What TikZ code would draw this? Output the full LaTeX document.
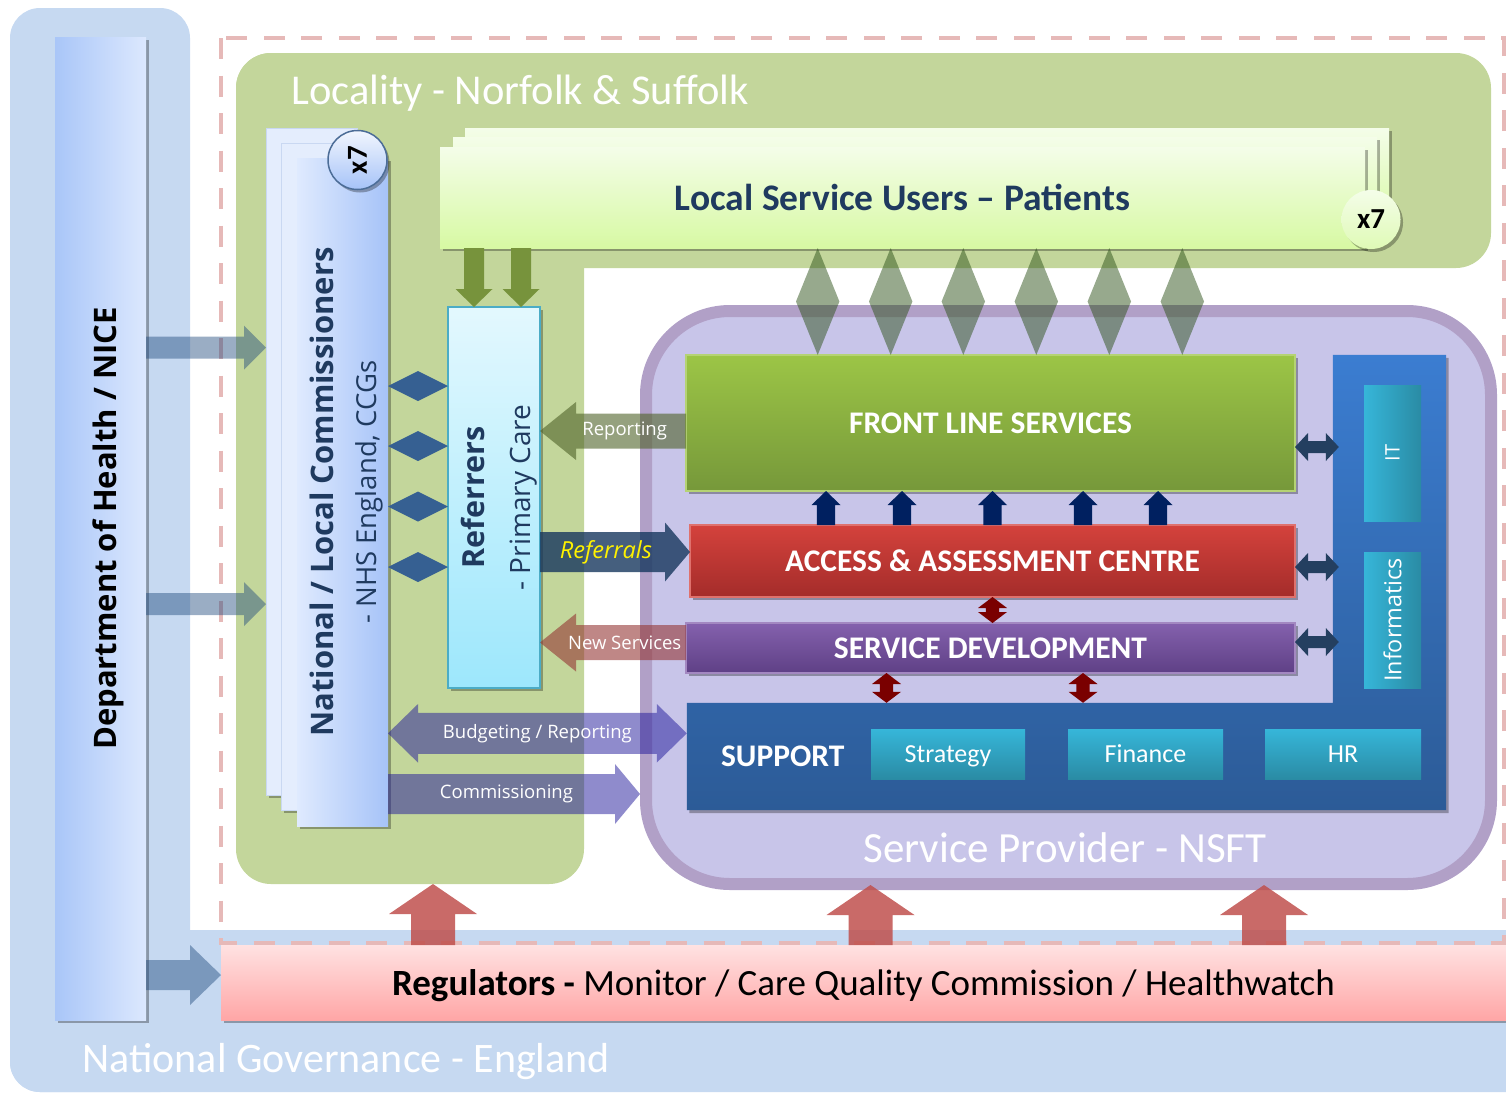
\documentclass[tikz,border=0pt]{standalone}
\usepackage{fontspec}
\usepackage{graphicx}
\setmainfont{Carlito}
\newfontfamily\osans{Open Sans}
\usetikzlibrary{calc,positioning,shadows}

% regions
\definecolor{govbg}{HTML}{C6D9F1}
\definecolor{locbg}{HTML}{C3D69B}
\definecolor{provbg}{HTML}{C8C5E9}
\definecolor{provrim}{HTML}{B1A0C7}
\definecolor{dashpk}{HTML}{E6B9B8}
% boxes
\definecolor{inknavy}{HTML}{1F3A5F}
\definecolor{deptl}{HTML}{A9C6F8}
\definecolor{deptr}{HTML}{DCE8FE}
\definecolor{commr}{HTML}{A6C3F8}
\definecolor{comml}{HTML}{DFEAFE}
\definecolor{pagepale}{HTML}{E4EDFD}
\definecolor{pageedge}{HTML}{C9D8F2}
\definecolor{userstop}{HTML}{F4FDE9}
\definecolor{usersbot}{HTML}{D7F9A3}
\definecolor{reftop}{HTML}{E3F8FE}
\definecolor{refbot}{HTML}{9DE7FC}
\definecolor{refedge}{HTML}{4BACC6}
\definecolor{fronttop}{HTML}{9CC546}
\definecolor{frontbot}{HTML}{76983A}
\definecolor{acctop}{HTML}{D4423C}
\definecolor{accbot}{HTML}{A42C2A}
\definecolor{sdtop}{HTML}{8461AD}
\definecolor{sdbot}{HTML}{5F4086}
\definecolor{supptop}{HTML}{3B7DD1}
\definecolor{suppbot}{HTML}{2C5B97}
\definecolor{cyantop}{HTML}{36B6D9}
\definecolor{cyanbot}{HTML}{2A8BA4}
\definecolor{regtop}{HTML}{FFE2E2}
\definecolor{regbot}{HTML}{FFA6A6}
% arrows
\definecolor{govink}{HTML}{1F497D}
\definecolor{leaf}{HTML}{77933C}
\definecolor{linkblue}{HTML}{366092}
\definecolor{moss}{HTML}{2B5017}
\definecolor{navyup}{HTML}{002060}
\definecolor{maroon}{HTML}{7A0000}
\definecolor{sidenavy}{HTML}{243F60}
\definecolor{olive}{HTML}{4F6228}
\definecolor{referink}{HTML}{17375E}
\definecolor{brick}{HTML}{953735}
\definecolor{violet}{HTML}{20189A}
\definecolor{regred}{HTML}{C0504D}

\tikzset{
  shad/.style={drop shadow={shadow xshift=2.5pt,shadow yshift=-3pt,opacity=.3,fill=black}},
  wh/.style 2 args={minimum width=#1pt,minimum height=#2pt},
  box/.style={inner sep=0pt,outer sep=0pt,shad},
  bluepage/.style={box,fill=pagepale,draw=pageedge,line width=.6pt},
  userpage/.style={box,top color=userstop,bottom color=usersbot},
  servicebox/.style={box,draw=#1,line width=1.2pt,text=white,
    font=\bfseries\fontsize{31.5}{38}\selectfont},
  cyanbox/.style={inner sep=0pt,top color=cyantop,bottom color=cyanbot,
    text=white,font=\fontsize{26}{31}\selectfont,text depth=0pt},
  badge/.style={circle,inner sep=0pt,outer sep=0pt,minimum size=59pt,shad,
    font=\bfseries\fontsize{29}{34}\selectfont},
  title/.style={text=white,font=\fontsize{#1}{#1}\selectfont},
  arrowlbl/.style={text=white,font=\osans\fontsize{18.5}{22}\selectfont},
  govarrow/.style={fill=govink,opacity=.45},
  leafarrow/.style={fill=leaf},
  linkdiam/.style={fill=linkblue},
  mossdiam/.style={fill=moss,opacity=.49},
  uparrow/.style={fill=navyup},
  maroonarrow/.style={fill=maroon},
  sidearrow/.style={fill=sidenavy},
  reportarrow/.style={fill=olive,opacity=.6},
  referarrow/.style={fill=referink,opacity=.8},
  newarrow/.style={fill=brick,opacity=.6},
  fundarrow/.style={fill=violet,opacity=.5},
  regarrow/.style={fill=regred,opacity=.85}
}

% block arrow: style, tail, tip, shaft half width, head half width, head length
\newcommand\blockarrow[6]{%
  \coordinate (ba-a) at (#2);
  \coordinate (ba-b) at (#3);
  \coordinate (ba-c) at ($(ba-b)!#6pt!(ba-a)$);
  \fill[#1] ($(ba-a)!#4pt!90:(ba-b)$) -- ($(ba-c)!#4pt!90:(ba-b)$)
    -- ($(ba-c)!#5pt!90:(ba-b)$) -- (ba-b) -- ($(ba-c)!#5pt!-90:(ba-b)$)
    -- ($(ba-c)!#4pt!-90:(ba-b)$) -- ($(ba-a)!#4pt!-90:(ba-b)$) -- cycle;
}
% same, with a head at both ends
\newcommand\twinarrow[6]{%
  \coordinate (ba-a) at (#2);
  \coordinate (ba-b) at (#3);
  \coordinate (ba-c) at ($(ba-a)!#6pt!(ba-b)$);
  \coordinate (ba-d) at ($(ba-b)!#6pt!(ba-a)$);
  \fill[#1] (ba-a) -- ($(ba-c)!#5pt!90:(ba-b)$) -- ($(ba-c)!#4pt!90:(ba-b)$)
    -- ($(ba-d)!#4pt!90:(ba-b)$) -- ($(ba-d)!#5pt!90:(ba-b)$) -- (ba-b)
    -- ($(ba-d)!#5pt!-90:(ba-b)$) -- ($(ba-d)!#4pt!-90:(ba-b)$)
    -- ($(ba-c)!#4pt!-90:(ba-b)$) -- ($(ba-c)!#5pt!-90:(ba-b)$) -- cycle;
}
% diamond spanning two points
\newcommand\linkdiamond[4]{%
  \coordinate (ba-a) at (#2);
  \coordinate (ba-b) at (#3);
  \coordinate (ba-m) at ($(ba-a)!.5!(ba-b)$);
  \fill[#1] (ba-a) -- ($(ba-m)!#4pt!90:(ba-b)$) -- (ba-b)
    -- ($(ba-m)!#4pt!-90:(ba-b)$) -- cycle;
}

\begin{document}
\begin{tikzpicture}[x=1pt,y=-1pt]
  \useasboundingbox (0,0) rectangle (1506,1093);
  \clip (0,0) rectangle (1506,1093);

  % national governance backdrop
  \fill[govbg,rounded corners=30pt] (10,8) rectangle (190,1092);
  \fill[govbg,rounded corners=30pt] (10,930) rectangle (1540,1092);
  \node[title=42,anchor=base west] (govtitle) at (79,1072) {National Governance - England};

  % dashed frame round the locality
  \draw[dashpk,line width=4.5pt,dash pattern=on 21pt off 16.5pt] (221,38) rectangle (1504,943);

  % locality
  \fill[locbg,rounded corners=35pt] (236,53) rectangle (1491,268);
  \fill[locbg,rounded corners=35pt] (236,53) rectangle (584,884);
  \coordinate (locfoot) at (433,884);
  \node[title=42.5,anchor=base west] (loctitle) at (288,104) {Locality - Norfolk \& Suffolk};

  % service provider
  \node[inner sep=0pt,outer sep=6pt,fill=provbg,draw=provrim,line width=12pt,
    rounded corners=84pt,wh={845}{573}] (prov) at (1068.5,597.5) {};
  \node[title=43,anchor=base] (provtitle) at (1065,862) {Service Provider - NSFT};

  % department of health
  \node[box,wh={91}{983},left color=deptl,right color=deptr,
    font=\osans\bfseries\fontsize{31}{37}\selectfont] (dept) at (100.5,528.5)
    {\hspace*{8pt}\rotatebox{90}{Department of Health / NICE}\hspace*{-8pt}};

  % commissioners, stacked x7
  \node[bluepage,wh={91}{667}] (commc) at (311.5,461.5) {};
  \node[bluepage,wh={91}{667}] (commb) at (326.5,476.5) {};
  \node[box,wh={91}{668},left color=comml,right color=commr,text=inknavy,
    font=\osans\fontsize{31}{43}\selectfont] (comm) at (342.5,492)
    {\hspace*{4pt}\rotatebox{90}{\begin{tabular}{@{}c@{}}\bfseries National / Local Commissioners\\
      \fontsize{27.5}{43}\selectfont - NHS England, CCGs\end{tabular}}\hspace*{-4pt}};
  \node[badge,draw=govink!80,line width=1.5pt,top color=white!85!commr,bottom color=commr]
    (commx) at (357.5,160) {\rotatebox{90}{x7}};

  % service users, stacked x7
  \node[userpage,wh={924}{100}] (usersc) at (927,178) {};
  \node[userpage,wh={924}{101}] (usersb) at (915,187.5) {};
  \node[userpage,wh={925}{101},text=inknavy,
    font=\bfseries\fontsize{37.5}{44}\selectfont] (users) at (902.5,197.5)
    {Local Service Users -- Patients};
  \node[badge,top color=userstop,bottom color=usersbot!80!white] (usersx) at (1371,219.5) {x7};

  % referrers
  \node[box,wh={92}{381},top color=reftop,bottom color=refbot,draw=refedge,
    line width=2pt,text=inknavy,font=\osans\fontsize{30.5}{46}\selectfont] (ref) at (494,497.5)
    {\hspace*{4pt}\rotatebox{90}{\begin{tabular}{@{}c@{}}\bfseries Referrers\\
      \fontsize{28}{46}\selectfont - Primary Care\end{tabular}}\hspace*{-4pt}};

  % provider services
  \node[servicebox=fronttop!75!white,wh={609}{136},top color=fronttop,bottom color=frontbot]
    (front) at (990.5,423) {FRONT LINE SERVICES};
  \node[servicebox=acctop!75!white,wh={605}{72},top color=acctop,bottom color=accbot]
    (access) at (992.5,561) {ACCESS \& ASSESSMENT CENTRE};
  \node[servicebox=sdtop!75!white,wh={609}{50},top color=sdtop,bottom color=sdbot]
    (sd) at (990.5,648) {SERVICE DEVELOPMENT};

  % support with the IT column
  \node[inner sep=0pt,wh={759}{107}] (support) at (1066.5,756.5) {};
  \node[inner sep=0pt,wh={113}{455}] (itcol) at (1389.5,582.5) {};
  \shade[shad,top color=supptop,bottom color=suppbot] (itcol.north west) -- (itcol.north east)
    -- (support.south east) -- (support.south west) -- (support.north west)
    -- (itcol.west |- support.north) -- cycle;
  \node[text=white,font=\bfseries\fontsize{31.5}{38}\selectfont] (supptxt) at (782.7,756) {SUPPORT};
  \node[cyanbox,wh={154}{50}] (strategy) at (948,754) {Strategy};
  \node[cyanbox,wh={155}{50}] (finance) at (1145.5,754) {Finance};
  \node[cyanbox,wh={156}{50}] (hr) at (1343,754) {HR};
  \node[inner sep=0pt,wh={57}{136},left color=cyantop,right color=cyanbot,text=white,
    font=\osans\fontsize{20}{24}\selectfont] (it) at (1392.5,453) {\rotatebox{90}{IT}};
  \node[inner sep=0pt,wh={57}{136},left color=cyantop,right color=cyanbot,text=white,
    font=\osans\fontsize{23.4}{28}\selectfont] (info) at (1392.5,620) {\rotatebox{90}{Informatics}};

  % regulators
  \node[box,wh={1285}{75},top color=regtop,bottom color=regbot,text depth=0pt,
    font=\fontsize{37}{44}\selectfont] (reg) at (863.5,982.5)
    {\textbf{Regulators -} Monitor / Care Quality Commission / Healthwatch};

  % guidance from the department
  \coordinate (dh1) at ([yshift=114pt]commc.west);
  \coordinate (dh2) at ([yshift=-142.5pt]commc.west);
  \blockarrow{govarrow}{dept.east |- dh1}{dh1}{11}{22}{22}
  \blockarrow{govarrow}{dept.east |- dh2}{dh2}{11}{22}{22}
  \coordinate (regin) at ([yshift=7.5pt]reg.west);
  \blockarrow{govarrow}{dept.east |- regin}{regin}{15}{30}{31}

  % regulators oversee locality and provider
  \blockarrow{regarrow}{reg.north -| locfoot}{locfoot}{22}{44}{30}
  \foreach \dx in {-198,195.5}{
    \coordinate (px) at ([xshift=\dx pt,yshift=5pt]prov.south);
    \blockarrow{regarrow}{reg.north -| px}{px}{22}{44}{30}
  }

  % commissioners <-> referrers
  \foreach \dy in {106,46,-14.5,-75}{
    \twinarrow{linkdiam}{[yshift=\dy pt]comm.east}{ref.west |- ba-a}{0}{15}{30}
  }

  % patients -> referrers
  \foreach \dx in {-20,27}{
    \coordinate (gx) at ([xshift=\dx pt]ref.north);
    \blockarrow{leafarrow}{users.south -| gx}{gx}{10}{18.5}{18}
  }

  % patients <-> front line
  \foreach \dx in {-172.8,-99.8,-27.2,45.8,118.8,191.8}{
    \coordinate (fx) at ([xshift=\dx pt]front.north);
    \linkdiamond{mossdiam}{users.south -| fx}{fx}{21.7}
  }

  % assessment -> front line
  \foreach \dx in {-166.5,-90.5,0,90.5,165.5}{
    \coordinate (ux) at ([xshift=\dx pt]access.north);
    \blockarrow{uparrow}{ux}{front.south -| ux}{9.2}{14.5}{14}
  }

  % development links
  \twinarrow{maroonarrow}{access.south}{sd.north -| ba-a}{6.6}{14.5}{11}
  \foreach \dx in {-104,92.5}{
    \coordinate (sx) at ([xshift=\dx pt]sd.south);
    \twinarrow{maroonarrow}{sx}{support.north -| sx}{6.6}{14.5}{11}
  }

  % services <-> IT column
  \twinarrow{sidearrow}{[yshift=-24pt]front.east}{[xshift=6pt]itcol.west |- ba-a}{6}{14}{13}
  \twinarrow{sidearrow}{[yshift=-6pt]access.east}{[xshift=6pt]itcol.west |- ba-a}{6}{14}{13}
  \twinarrow{sidearrow}{[yshift=6pt]sd.east}{[xshift=6pt]itcol.west |- ba-a}{6}{14}{13}

  % reporting, referrals and new services
  \blockarrow{reportarrow}{[yshift=-8pt]front.west}{ref.east |- ba-a}{17.5}{29}{36}
  \path (ba-a) -- node[arrowlbl,pos=.42] (replbl) {Reporting} (ba-b);
  \blockarrow{referarrow}{[yshift=-54.5pt]ref.east}{access.west |- ba-a}{20}{29.5}{25}
  \path (ba-a) -- node[arrowlbl,pos=.44,text=yellow,font=\osans\itshape\fontsize{23.5}{28}\selectfont]
    (reflbl) {Referrals} (ba-b);
  \blockarrow{newarrow}{[yshift=5.5pt]sd.west}{ref.east |- ba-a}{17.5}{29}{36}
  \path (ba-a) -- node[arrowlbl,pos=.42] (newlbl) {New Services} (ba-b);

  % commissioners <-> provider
  \twinarrow{fundarrow}{[yshift=-241.3pt]comm.east}{support.west |- ba-a}{20.5}{29.3}{30}
  \path (ba-a) -- node[arrowlbl,pos=.5] (budlbl) {Budgeting / Reporting} (ba-b);
  \blockarrow{fundarrow}{[yshift=-302pt]comm.east}{prov.west |- ba-a}{20}{30}{25}
  \path (ba-a) -- node[arrowlbl,pos=.47] (comlbl) {Commissioning} (ba-b);
\end{tikzpicture}
\end{document}
